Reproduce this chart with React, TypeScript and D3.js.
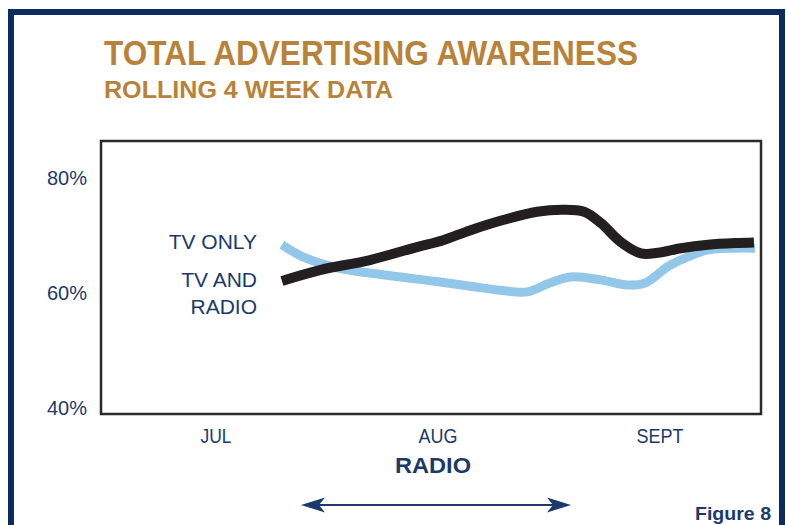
import React from "react";
import * as d3 from "d3";

// x positions in months (0 = JUL, 1 = AUG, 2 = SEPT)
const monthLabels = ["JUL", "AUG", "SEPT"];
const monthLabelWidths = [31, 39, 47];
const yTicks = [40, 60, 80];

const tvOnlyX = [0.297, 0.392, 0.545, 0.77, 0.995, 1.162, 1.279, 1.401, 1.5, 1.597, 1.733, 1.854, 1.929, 1.975, 2.035, 2.126, 2.216, 2.338, 2.428];
const tvOnlyY = [68.3, 66.2, 64.3, 63.0, 61.9, 61.0, 60.4, 60.1, 61.6, 62.7, 62.2, 61.3, 61.6, 62.7, 64.5, 66.2, 67.4, 67.7, 67.7];

const tvRadioX = [0.297, 0.468, 0.694, 0.905, 1.023, 1.144, 1.293, 1.446, 1.563, 1.658, 1.733, 1.823, 1.914, 1.99, 2.095, 2.216, 2.338, 2.423];
const tvRadioY = [62.0, 63.9, 65.65, 67.9, 69.1, 70.8, 72.6, 74.05, 74.4, 74.05, 72.1, 68.8, 66.8, 66.9, 67.7, 68.3, 68.6, 68.7];

const seriesLabels = { tvOnly: ["TV ONLY"], tvRadio: ["TV AND", "RADIO"] };

const NAVY = "#1b3a6b";
const GOLD = "#b9823a";

export default function App() {
  const W = 786, H = 525;
  const x = d3.scaleLinear().domain([0, 2]).range([216, 660]);
  const y = d3.scaleLinear().domain([40, 80]).range([407.5, 177.5]);
  const line = d3
    .line<[number, number]>()
    .x((d) => x(d[0]))
    .y((d) => y(d[1]))
    .curve(d3.curveCatmullRom.alpha(0.5));
  const tvOnly = tvOnlyX.map((v, i) => [v, tvOnlyY[i]] as [number, number]);
  const tvRadio = tvRadioX.map((v, i) => [v, tvRadioY[i]] as [number, number]);

  const plotL = 101, plotR = 761, plotT = 141, plotB = 414;
  const arrowL = 301, arrowR = 571, arrowY = 505;
  const narrow = "'Liberation Sans Narrow', 'Arial Narrow', 'Liberation Sans', Arial, sans-serif";
  const sans = "'Liberation Sans', Arial, Helvetica, sans-serif";

  return (
    <svg width={W} height={H} style={{ position: "absolute", left: 0, top: 0 }}>
      <rect width={W} height={H} fill="#ffffff" />
      {/* outer frame */}
      <rect x={11} y={12} width={771} height={H + 20} fill="none" stroke="#0c2b5e" strokeWidth={6} />

      <text x={104} y={65} fill={GOLD} fontFamily={narrow} fontWeight="bold" fontSize={35} textLength={534} lengthAdjust="spacingAndGlyphs">
        TOTAL ADVERTISING AWARENESS
      </text>
      <text x={104} y={98} fill={GOLD} fontFamily={narrow} fontWeight="bold" fontSize={23} textLength={289} lengthAdjust="spacingAndGlyphs">
        ROLLING 4 WEEK DATA
      </text>

      {/* y labels */}
      {yTicks.map((t) => (
        <text key={t} x={87} y={y(t) + 7} textAnchor="end" fill={NAVY} fontFamily={sans} fontSize={20}>
          {t}%
        </text>
      ))}
      {/* x labels */}
      {monthLabels.map((m, i) => (
        <text key={m} x={x(i) - monthLabelWidths[i] / 2} y={443} fill={NAVY} fontFamily={narrow} fontSize={21} textLength={monthLabelWidths[i]} lengthAdjust="spacingAndGlyphs">
          {m}
        </text>
      ))}

      {/* lines */}
      <path d={line(tvOnly) || ""} fill="none" stroke="#93c7ea" strokeWidth={9} strokeLinejoin="round" />
      <path d={line(tvRadio) || ""} fill="none" stroke="#231f20" strokeWidth={10} strokeLinejoin="round" />

      {/* plot frame */}
      <rect x={plotL} y={plotT} width={plotR - plotL} height={plotB - plotT} fill="none" stroke="#2a2a2a" strokeWidth={2.5} />

      {/* series labels */}
      <text x={257} y={249} textAnchor="end" fill={NAVY} fontFamily={sans} fontSize={21}>
        {seriesLabels.tvOnly[0]}
      </text>
      {seriesLabels.tvRadio.map((s, i) => (
        <text key={s} x={257} y={287 + i * 27} textAnchor="end" fill={NAVY} fontFamily={sans} fontSize={21}>
          {s}
        </text>
      ))}

      {/* radio arrow */}
      <text x={433} y={473} textAnchor="middle" fill={NAVY} fontFamily={sans} fontWeight="bold" fontSize={22} textLength={76} lengthAdjust="spacingAndGlyphs">
        RADIO
      </text>
      <line x1={arrowL + 15} x2={arrowR - 15} y1={arrowY} y2={arrowY} stroke={NAVY} strokeWidth={2.2} />
      <path d={`M${arrowL},${arrowY} L${arrowL + 24},${arrowY - 7.5} L${arrowL + 18},${arrowY} L${arrowL + 24},${arrowY + 7.5} Z`} fill={NAVY} />
      <path d={`M${arrowR},${arrowY} L${arrowR - 24},${arrowY - 7.5} L${arrowR - 18},${arrowY} L${arrowR - 24},${arrowY + 7.5} Z`} fill={NAVY} />

      <text x={771} y={520} textAnchor="end" fill={NAVY} fontFamily={sans} fontWeight="bold" fontSize={18} textLength={76} lengthAdjust="spacingAndGlyphs">
        Figure 8
      </text>
    </svg>
  );
}
